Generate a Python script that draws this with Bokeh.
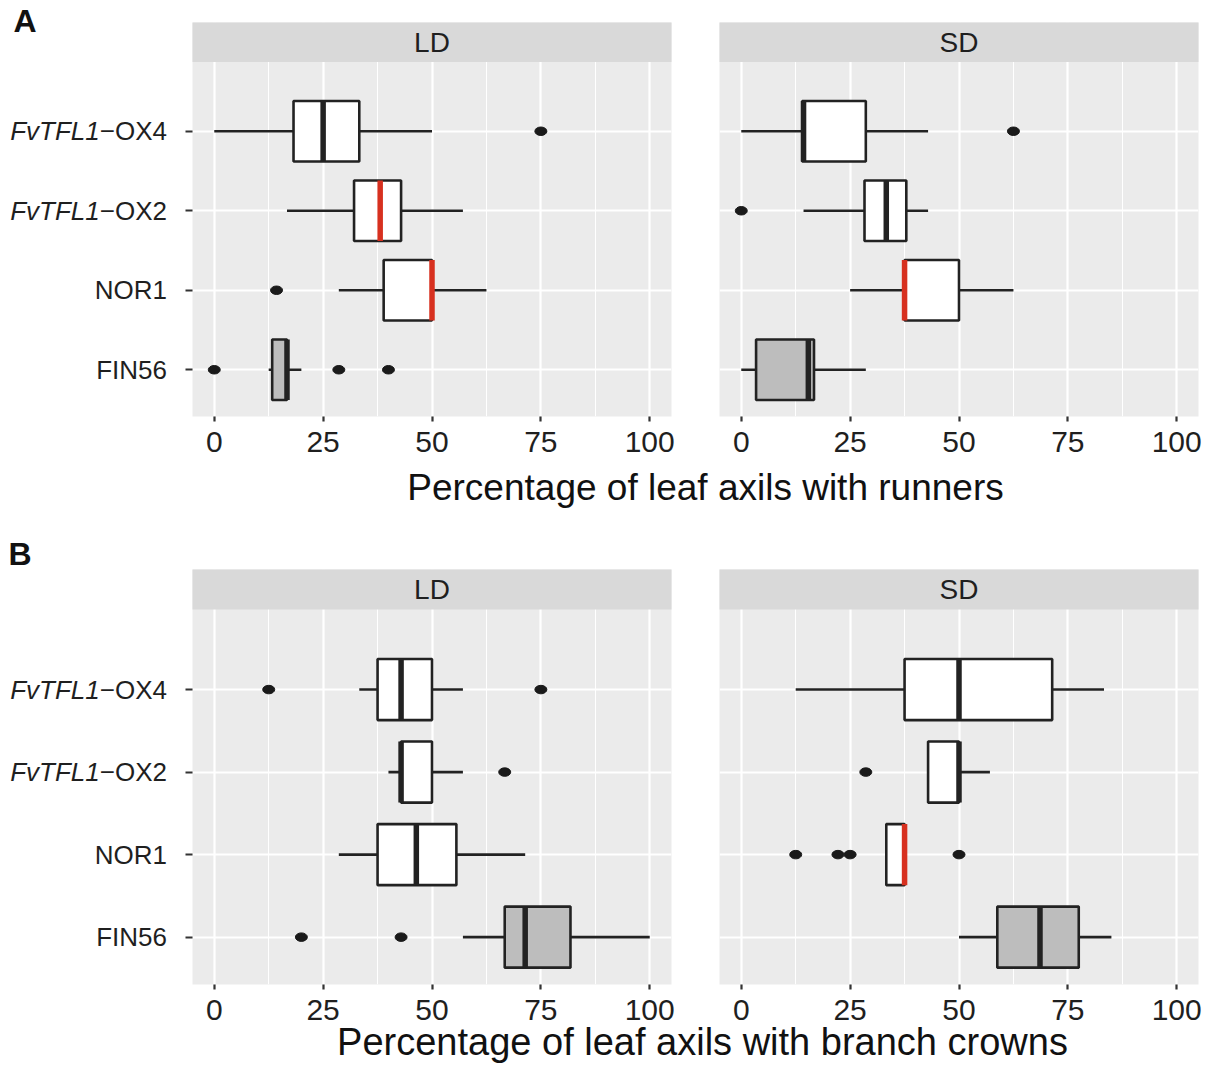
from bokeh.plotting import figure
from bokeh.models import Range1d, FixedTicker, ColumnDataSource
from bokeh.layouts import column, row
from bokeh.core.properties import value
from bokeh.embed import file_html
from bokeh.resources import INLINE

# ---------------- data ----------------
categories = ["FvTFL1-OX4", "FvTFL1-OX2", "NOR1", "FIN56"]   # top to bottom
cat_pos = {"FvTFL1-OX4": 4, "FvTFL1-OX2": 3, "NOR1": 2, "FIN56": 1}
cat_label_main = ["\u2212OX4", "\u2212OX2", "NOR1", "FIN56"]
cat_label_italic = ["FvTFL1", "FvTFL1", "", ""]
x_ticks = [0, 25, 50, 75, 100]
x_minor = [12.5, 37.5, 62.5, 87.5]

# A: runners, LD
A_LD_lower = [0, 16.7, 28.6, 12.5]
A_LD_q1 = [18.2, 32.1, 38.9, 13.3]
A_LD_median = [25, 38.1, 50, 16.7]
A_LD_q3 = [33.3, 42.9, 50, 16.7]
A_LD_upper = [50, 57.1, 62.5, 20]
A_LD_median_red = [False, True, True, False]
A_LD_out_x = [75, 14.3, 0, 28.6, 40]
A_LD_out_cat = ["FvTFL1-OX4", "NOR1", "FIN56", "FIN56", "FIN56"]

# A: runners, SD
A_SD_lower = [0, 14.3, 25, 0]
A_SD_q1 = [14.0, 28.3, 37.5, 3.4]
A_SD_median = [14.3, 33.3, 37.5, 15.4]
A_SD_q3 = [28.6, 37.9, 50, 16.7]
A_SD_upper = [42.9, 42.9, 62.5, 28.6]
A_SD_median_red = [False, False, True, False]
A_SD_out_x = [62.5, 0]
A_SD_out_cat = ["FvTFL1-OX4", "FvTFL1-OX2"]

# B: branch crowns, LD
B_LD_lower = [33.3, 40, 28.6, 57.1]
B_LD_q1 = [37.5, 42.9, 37.5, 66.7]
B_LD_median = [42.9, 42.9, 46.4, 71.4]
B_LD_q3 = [50, 50, 55.6, 81.8]
B_LD_upper = [57.1, 57.1, 71.4, 100]
B_LD_median_red = [False, False, False, False]
B_LD_out_x = [12.5, 75, 66.7, 20, 42.9]
B_LD_out_cat = ["FvTFL1-OX4", "FvTFL1-OX4", "FvTFL1-OX2", "FIN56", "FIN56"]

# B: branch crowns, SD
B_SD_lower = [12.5, 42.9, 33.3, 50]
B_SD_q1 = [37.5, 42.9, 33.3, 58.8]
B_SD_median = [50, 50, 37.5, 68.6]
B_SD_q3 = [71.4, 50, 37.5, 77.5]
B_SD_upper = [83.3, 57.1, 37.5, 85.0]
B_SD_median_red = [False, False, True, False]
B_SD_out_x = [28.6, 12.5, 22.2, 25, 50]
B_SD_out_cat = ["FvTFL1-OX2", "NOR1", "NOR1", "NOR1", "NOR1"]

fills = ["#ffffff", "#ffffff", "#ffffff", "#bdbdbd"]

# ---------------- style ----------------
FONT = "Liberation Sans"
TXT = "#1f1f1f"
LINE = "#222222"
RED = "#d7301f"
PANEL_BG = "#ebebeb"
STRIP_BG = "#d9d9d9"
LW = 2.6
PAGE_H = 1066
LABEL_W = 184


def bare(w, h, xr, yr, **kw):
    f = figure(frame_width=w, frame_height=h, x_range=xr, y_range=yr,
               output_backend="svg", toolbar_location=None,
               x_axis_location=None, y_axis_location=None, min_border=0, **kw)
    f.outline_line_color = None
    f.background_fill_color = "white"
    f.border_fill_color = "white"
    f.grid.visible = False
    return f


def panel(lower, q1, med, q3, upper, red, out_x, out_cat, strip_text,
          y0, y_panel_top, y_end, frame_h, box_h,
          mb_left, mb_right, mb_top, mb_bottom, show_ticks):
    p = figure(frame_width=479, frame_height=frame_h,
               x_range=Range1d(-5, 105), y_range=Range1d(y0, y_end),
               output_backend="svg", toolbar_location=None,
               min_border_left=mb_left, min_border_right=mb_right,
               min_border_top=mb_top, min_border_bottom=mb_bottom)
    p.outline_line_color = None
    p.background_fill_color = PANEL_BG
    p.border_fill_color = "white"

    p.xgrid.ticker = FixedTicker(ticks=x_ticks, minor_ticks=x_minor)
    p.xgrid.grid_line_color = "white"
    p.xgrid.grid_line_width = 2.2
    p.xgrid.minor_grid_line_color = "white"
    p.xgrid.minor_grid_line_width = 1.1
    p.ygrid.ticker = FixedTicker(ticks=[1, 2, 3, 4])
    p.ygrid.grid_line_color = "white"
    p.ygrid.grid_line_width = 2.2

    p.xaxis.ticker = FixedTicker(ticks=x_ticks, minor_ticks=x_minor)
    p.xaxis.axis_line_color = None
    p.xaxis.major_tick_in = 0
    p.xaxis.major_tick_out = 5
    p.xaxis.major_tick_line_color = "#333333"
    p.xaxis.major_tick_line_width = 2.2
    p.xaxis.minor_tick_line_color = None
    p.xaxis.major_label_standoff = 10
    p.xaxis.major_label_text_font = FONT
    p.xaxis.major_label_text_font_size = "30px"
    p.xaxis.major_label_text_color = TXT

    p.yaxis.ticker = FixedTicker(ticks=[1, 2, 3, 4])
    p.yaxis.axis_line_color = None
    p.yaxis.major_tick_in = 0
    p.yaxis.major_tick_out = 7
    p.yaxis.major_tick_line_color = "#333333"
    p.yaxis.major_tick_line_width = 2.2
    p.yaxis.minor_tick_line_color = None
    p.yaxis.major_label_standoff = 0
    p.yaxis.major_label_overrides = {1: "", 2: "", 3: "", 4: ""}
    p.yaxis.visible = show_ticks

    # facet strip
    p.quad(left=[-10], right=[110], bottom=[y_panel_top], top=[y_end + 1],
           fill_color=STRIP_BG, line_color=None)
    p.text(x=[50], y=[(y_panel_top + y_end) / 2], text=[strip_text],
           text_font=value(FONT), text_font_size="28px", text_color=TXT,
           text_align="center", text_baseline="middle")

    ys = [cat_pos[c] for c in categories]
    src = ColumnDataSource(dict(
        y=ys, lower=lower, q1=q1, med=med, q3=q3, upper=upper,
        lo_box=[y - box_h / 2 for y in ys], hi_box=[y + box_h / 2 for y in ys],
        fill=fills, mcol=[RED if r else LINE for r in red]))

    p.segment(x0="lower", y0="y", x1="q1", y1="y", source=src, line_color=LINE, line_width=LW)
    p.segment(x0="q3", y0="y", x1="upper", y1="y", source=src, line_color=LINE, line_width=LW)
    p.hbar(y="y", left="q1", right="q3", height=box_h, source=src,
           fill_color="fill", line_color=LINE, line_width=LW)
    p.segment(x0="med", y0="lo_box", x1="med", y1="hi_box", source=src,
              line_color="mcol", line_width=5.5, line_cap="butt")

    p.ellipse(x=out_x, y=[cat_pos[c] for c in out_cat], width=12, height=8.5,
              width_units="screen", height_units="screen",
              fill_color="#1a1a1a", line_color="#1a1a1a")
    return p


def title_fig(w, h, text, x, y, size, **kw):
    t = bare(w, h, Range1d(0, w), Range1d(0, h), **kw)
    t.text(x=[x], y=[y], text=[text], text_font=value(FONT), text_font_size=size,
           text_color="#111111", text_align="center", text_baseline="middle")
    return t


def label_range(y0, y_end, frame_h, frame_top_page):
    # range of the label column that shares the panel's scale (page is PAGE_H tall)
    ppu = frame_h / (y_end - y0)
    top = y_end + frame_top_page / ppu
    return Range1d(top - PAGE_H / ppu, top), ppu, top


# ---------------- geometry ----------------
A_y0, A_ytop, A_yend = 0.412, 4.872, 5.368
A_top, A_frame, A_bot = 22, 394, 52
A_row_h = A_top + A_frame + A_bot
TA_H = 56
B_y0, B_ytop, B_yend = 0.426, 4.970, 5.455
B_top, B_frame, B_bot = 45, 415, 52
B_row_h = B_top + B_frame + B_bot
TB_OVERLAP = 20
TB_H = PAGE_H - A_row_h - TA_H - B_row_h + TB_OVERLAP
TB_TOP_PAGE = A_row_h + TA_H + B_row_h - TB_OVERLAP
TB_CENTER_PAGE = 1041

# ---------------- panels ----------------
pA_LD = panel(A_LD_lower, A_LD_q1, A_LD_median, A_LD_q3, A_LD_upper, A_LD_median_red,
              A_LD_out_x, A_LD_out_cat, "LD", A_y0, A_ytop, A_yend, A_frame, 0.76,
              8, 24, A_top, A_bot, True)
pA_SD = panel(A_SD_lower, A_SD_q1, A_SD_median, A_SD_q3, A_SD_upper, A_SD_median_red,
              A_SD_out_x, A_SD_out_cat, "SD", A_y0, A_ytop, A_yend, A_frame, 0.76,
              24, 9, A_top, A_bot, False)
tA = title_fig(1207 - LABEL_W, TA_H, "Percentage of leaf axils with runners",
               705 - LABEL_W, TA_H - 18.5, "37px")

pB_LD = panel(B_LD_lower, B_LD_q1, B_LD_median, B_LD_q3, B_LD_upper, B_LD_median_red,
              B_LD_out_x, B_LD_out_cat, "LD", B_y0, B_ytop, B_yend, B_frame, 0.74,
              8, 24, B_top, B_bot, True)
pB_SD = panel(B_SD_lower, B_SD_q1, B_SD_median, B_SD_q3, B_SD_upper, B_SD_median_red,
              B_SD_out_x, B_SD_out_cat, "SD", B_y0, B_ytop, B_yend, B_frame, 0.74,
              24, 9, B_top, B_bot, False)
tB = title_fig(1207 - LABEL_W, TB_H, "Percentage of leaf axils with branch crowns",
               702 - LABEL_W, TB_H - (TB_CENTER_PAGE - TB_TOP_PAGE), "38px",
               margin=(-TB_OVERLAP, 0, 0, 0))
tB.background_fill_alpha = 0
tB.border_fill_alpha = 0

# ---------------- label column (category names and panel letters) ----------------
rA, ppuA, topA = label_range(A_y0, A_yend, A_frame, A_top)
rB, ppuB, topB = label_range(B_y0, B_yend, B_frame, A_row_h + TA_H + B_top)
labels = bare(LABEL_W, PAGE_H, Range1d(0, LABEL_W), Range1d(0, PAGE_H))
labels.extra_y_ranges = {"A": rA, "B": rB}
suffix_w = 2.585 * 26  # width of "\u2212OX4" at 26px (Arial metrics)
right_x = 166.5
ys = [cat_pos[c] for c in categories]
it_y = [y for y, t in zip(ys, cat_label_italic) if t]
it_t = [t for t in cat_label_italic if t]
for rn, top_, ppu_, letter, lx, lcy in (("A", topA, ppuA, "A", 13, 20.5),
                                         ("B", topB, ppuB, "B", 8, 553)):
    labels.text(x=[right_x] * 4, y=ys, text=cat_label_main, y_range_name=rn,
                text_font=value(FONT), text_font_size="26px", text_color=TXT,
                text_align="right", text_baseline="middle")
    labels.text(x=[right_x - suffix_w] * len(it_t), y=it_y, text=it_t, y_range_name=rn,
                text_font=value(FONT), text_font_style="italic", text_font_size="26px",
                text_color=TXT, text_align="right", text_baseline="middle")
    labels.text(x=[lx], y=[top_ - lcy / ppu_], text=[letter], y_range_name=rn,
                text_font=value(FONT), text_font_style="bold", text_font_size="32px",
                text_color="#111111", text_align="left", text_baseline="middle")

layout = row(labels, column(row(pA_LD, pA_SD), tA, row(pB_LD, pB_SD), tB))

open("out.html", "w").write(file_html(layout, INLINE))
